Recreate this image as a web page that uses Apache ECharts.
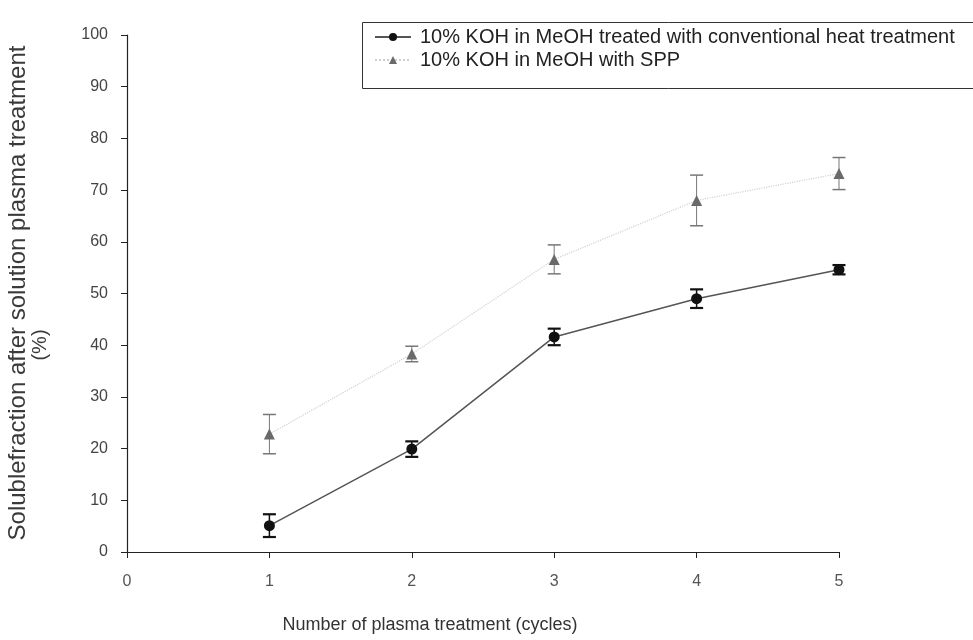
<!DOCTYPE html>
<html>
<head>
<meta charset="utf-8">
<script src="https://cdn.jsdelivr.net/npm/echarts@6/dist/echarts.min.js"></script>
<style>
  html, body { margin: 0; padding: 0; background: #fff; }
  #chart { width: 973px; height: 640px; }
</style>
</head>
<body>
<div id="chart"></div>
<script>
// Soluble fraction vs. number of plasma treatment cycles
const cycles = [1, 2, 3, 4, 5];
const heatMean = [5.1, 19.9, 41.6, 49.0, 54.6];
const heatErr = [2.2, 1.5, 1.6, 1.8, 0.9];
const sppMean = [22.8, 38.3, 56.6, 68.0, 73.2];
const sppErr = [3.8, 1.5, 2.8, 4.9, 3.1];
const yTicks = [0, 10, 20, 30, 40, 50, 60, 70, 80, 90, 100];
const xTicks = [0, 1, 2, 3, 4, 5];

const seriesNames = [
  '10% KOH in MeOH treated with conventional heat treatment',
  '10% KOH in MeOH with SPP'
];

const FONT = '"Liberation Sans", Arial, sans-serif';

function pairs(xs, ys) { return xs.map((x, i) => [x, ys[i]]); }
function errRows(xs, m, e) { return xs.map((x, i) => [x, m[i] - e[i], m[i] + e[i]]); }

function errorBars(color, width, capWidth) {
  return function (params, api) {
    const x = api.value(0);
    const lo = api.coord([x, api.value(1)]);
    const hi = api.coord([x, api.value(2)]);
    const hw = 6.5;
    const st = { stroke: color, lineWidth: width };
    const cs = { stroke: color, lineWidth: capWidth };
    return {
      type: 'group',
      children: [
        { type: 'line', shape: { x1: lo[0], y1: lo[1], x2: hi[0], y2: hi[1] }, style: st },
        { type: 'line', shape: { x1: lo[0] - hw, y1: lo[1], x2: lo[0] + hw, y2: lo[1] }, style: cs },
        { type: 'line', shape: { x1: hi[0] - hw, y1: hi[1], x2: hi[0] + hw, y2: hi[1] }, style: cs }
      ]
    };
  };
}

const chart = echarts.init(document.getElementById('chart'), null, { renderer: 'canvas' });

chart.setOption({
  animation: false,
  backgroundColor: '#fff',
  textStyle: { fontFamily: FONT },
  grid: { left: 127, right: 134, top: 35, bottom: 88, containLabel: false },
  legend: {
    orient: 'vertical',
    left: 362,
    top: 22,
    padding: [5, 10, 18, 12],
    itemGap: 3,
    itemWidth: 36,
    itemHeight: 10,
    borderWidth: 0,
    textStyle: { fontFamily: FONT, fontSize: 20, color: '#222', padding: [0, 0, 0, 4] },
    data: seriesNames
  },
  xAxis: {
    type: 'value',
    min: xTicks[0],
    max: xTicks[xTicks.length - 1],
    interval: 1,
    axisLine: { show: true, lineStyle: { color: '#222', width: 1.2 } },
    axisTick: { show: true, inside: false, length: 6, lineStyle: { color: '#222' } },
    axisLabel: { fontSize: 16, color: '#555', margin: 22, fontFamily: FONT },
    splitLine: { show: false }
  },
  yAxis: {
    type: 'value',
    min: yTicks[0],
    max: yTicks[yTicks.length - 1],
    interval: 10,
    axisLine: { show: true, lineStyle: { color: '#222', width: 1.2 } },
    axisTick: { show: true, inside: false, length: 6, lineStyle: { color: '#222' } },
    axisLabel: { fontSize: 16, color: '#444', margin: 19, fontFamily: FONT },
    splitLine: { show: false }
  },
  graphic: [
    {
      // legend frame, running past the right edge of the canvas
      type: 'rect',
      shape: { x: 362.5, y: 22.5, width: 700, height: 66 },
      style: { fill: 'none', stroke: '#333', lineWidth: 1 },
      z: 1
    },
    {
      type: 'text',
      x: 430, y: 625,
      style: {
        text: 'Number of plasma treatment (cycles)',
        font: '18px ' + FONT,
        fill: '#333',
        textAlign: 'center',
        textVerticalAlign: 'middle'
      }
    },
    {
      type: 'text',
      x: 18, y: 293,
      rotation: Math.PI / 2,
      style: {
        text: 'Solublefraction after solution plasma treatment',
        font: '24px ' + FONT,
        fill: '#3a3a3a',
        textAlign: 'center',
        textVerticalAlign: 'middle'
      }
    },
    {
      type: 'text',
      x: 40, y: 345,
      rotation: Math.PI / 2,
      style: {
        text: '(%)',
        font: '20px ' + FONT,
        fill: '#3a3a3a',
        textAlign: 'center',
        textVerticalAlign: 'middle'
      }
    }
  ],
  series: [
    {
      name: seriesNames[0] + ' error',
      type: 'custom',
      renderItem: errorBars('#111', 1.5, 2.2),
      data: errRows(cycles, heatMean, heatErr),
      encode: { x: 0, y: [1, 2] },
      z: 3
    },
    {
      name: seriesNames[1] + ' error',
      type: 'custom',
      renderItem: errorBars('#777', 1, 1.5),
      data: errRows(cycles, sppMean, sppErr),
      encode: { x: 0, y: [1, 2] },
      z: 3
    },
    {
      name: seriesNames[0],
      type: 'line',
      data: pairs(cycles, heatMean),
      symbol: 'circle',
      symbolSize: 11,
      itemStyle: { color: '#111' },
      lineStyle: { color: '#555', width: 1.5 },
      z: 5
    },
    {
      name: seriesNames[1],
      type: 'line',
      data: pairs(cycles, sppMean),
      symbol: 'triangle',
      symbolSize: 11,
      itemStyle: { color: '#6a6a6a' },
      lineStyle: { color: '#d0d0d0', width: 1.2, type: 'dotted' },
      z: 4
    }
  ]
});
</script>
</body>
</html>
